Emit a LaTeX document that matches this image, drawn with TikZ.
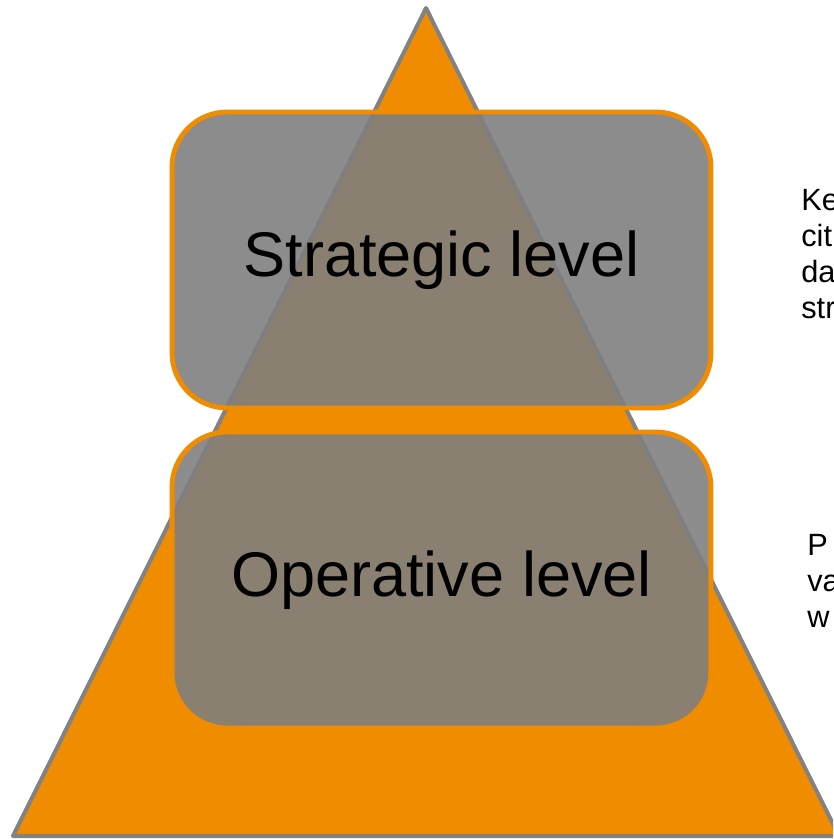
\documentclass[tikz,border=0pt]{standalone}
\usepackage{fontspec}
\setmainfont{Liberation Sans}
\definecolor{pyrorange}{RGB}{240,140,0}
\definecolor{pyrgray}{RGB}{130,130,130}
\definecolor{boxgray}{RGB}{127,127,127}
\tikzset{
  pyramid/.style={fill=pyrorange, draw=pyrgray, line width=2.3pt, line join=round},
  levelbox/.style={draw=pyrorange, line width=2.8pt, fill=boxgray, fill opacity=0.9,
    text opacity=1, rounded corners=1.1cm, minimum width=10.78cm, minimum height=5.92cm,
    font=\fontsize{35.9}{43}\selectfont},
  sidenote/.style={align=left, inner sep=0pt, anchor=base west,
    font=\fontsize{17.5}{20.4}\selectfont}
}
\begin{document}
\begin{tikzpicture}[x=0.02cm, y=-0.02cm]
\useasboundingbox (0,0) rectangle (833,839);
\clip (0,0) rectangle (833,839);
\coordinate (apex) at (426,8);
\coordinate (baseR) at (839,836);
\coordinate (baseL) at (13,836);
\draw[pyramid] (apex) -- (baseR) -- (baseL) -- cycle;
\node[levelbox] (strategic) at (441.5,260) {Strategic level};
\node[levelbox] (operative) at (441.5,580) {Operative level};
\node[sidenote] (stratnote) at (801,318) {Ke\\cit\\da\\str};
\node[sidenote] (opnote) at (807,627) {P\\va\\w};
\end{tikzpicture}
\end{document}
